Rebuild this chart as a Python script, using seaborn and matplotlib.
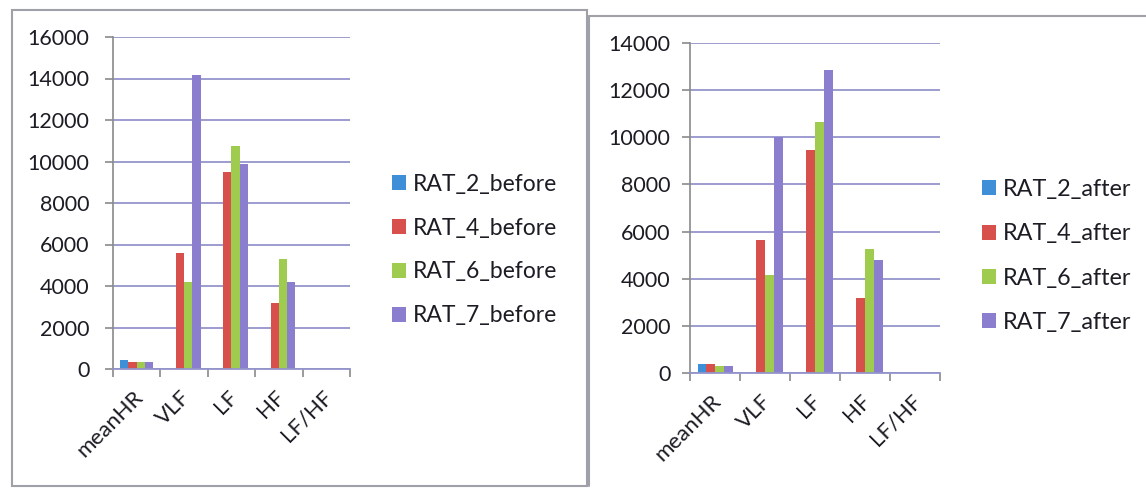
import matplotlib
matplotlib.use("Agg")
import matplotlib.pyplot as plt
import matplotlib.transforms as mtransforms
from matplotlib.patches import Rectangle
from matplotlib.lines import Line2D
import numpy as np
import pandas as pd
import seaborn as sns

# ---------------- data ----------------
categories = ["meanHR", "VLF", "LF", "HF", "LF/HF"]

before_labels = ["RAT_2_before", "RAT_4_before", "RAT_6_before", "RAT_7_before"]
rat2_before = [430, 0, 0, 0, 1.1]
rat4_before = [330, 5600, 9480, 3180, 2.9]
rat6_before = [330, 4180, 10740, 5300, 2.0]
rat7_before = [330, 14180, 9870, 4180, 2.4]

after_labels = ["RAT_2_after", "RAT_4_after", "RAT_6_after", "RAT_7_after"]
rat2_after = [370, 0, 0, 0, 1.0]
rat4_after = [370, 5660, 9450, 3170, 3.0]
rat6_after = [280, 4160, 10640, 5260, 2.0]
rat7_after = [280, 10010, 12870, 4780, 2.7]

left_yticks = [0, 2000, 4000, 6000, 8000, 10000, 12000, 14000, 16000]
right_yticks = [0, 2000, 4000, 6000, 8000, 10000, 12000, 14000]

colors = ["#3F8ED8", "#D8504C", "#9FCB4F", "#8C7ECF"]

# ---------------- style ----------------
sns.set_theme(style="white")
plt.rcParams["font.family"] = ["Lato", "DejaVu Sans"]
TEXT = "#1c1c24"
GRID = "#9494cc"

W, H = 1146, 488
fig = plt.figure(figsize=(W / 100, H / 100), dpi=100)
fig.patch.set_facecolor("white")


def px_rect(x0, y0, x1, y1):
    """pixel box (top-left origin) -> figure fraction rect"""
    return [x0 / W, 1 - y1 / H, (x1 - x0) / W, (y1 - y0) / H]


def make_df(series, labels):
    rows = []
    for lab, vals in zip(labels, series):
        for c, v in zip(categories, vals):
            rows.append({"cat": c, "series": lab, "value": v})
    return pd.DataFrame(rows)


def draw_panel(rect, df, labels, yticks, ymax, ypad, legend_xy, legend_size):
    ax = fig.add_axes(rect)
    sns.barplot(data=df, x="cat", y="value", hue="series", order=categories,
                hue_order=labels, palette=colors, saturation=1, width=0.7,
                gap=0, dodge=True, ax=ax, legend=False, linewidth=0,
                err_kws={"linewidth": 0})
    ax.set_xlim(-0.5, len(categories) - 0.5)
    ax.set_ylim(0, ymax)
    ax.set_yticks(yticks)
    ax.set_yticklabels([str(t) for t in yticks])
    ax.set_xlabel("")
    ax.set_ylabel("")
    ax.yaxis.grid(True, color=GRID, linewidth=1.3)
    ax.set_axisbelow(True)
    for s in ["top", "right"]:
        ax.spines[s].set_visible(False)
    ax.spines["left"].set_color("#8a8a8a")
    ax.spines["left"].set_linewidth(1.2)
    ax.spines["bottom"].set_color(GRID)
    ax.spines["bottom"].set_linewidth(1.3)
    ax.tick_params(axis="y", length=6, width=1.2, color="#8a8a8a",
                   labelsize=15.5, labelcolor=TEXT, pad=ypad, left=True)
    # category boundary ticks
    ax.set_xticks(np.arange(-0.5, len(categories)), minor=True)
    ax.tick_params(axis="x", which="minor", length=6, width=1.2,
                   color="#8a8a8a", bottom=True, direction="out")
    ax.tick_params(axis="x", which="major", length=0, labelsize=16,
                   labelcolor=TEXT, pad=13)
    ax.set_xticks(range(len(categories)))
    ax.set_xticklabels(categories, rotation=45, ha="right")
    off = mtransforms.ScaledTranslation(10 / 100, 0, fig.dpi_scale_trans)
    for lab in ax.get_xticklabels():
        lab.set_transform(lab.get_transform() + off)

    handles = [Rectangle((0, 0), 1, 1, facecolor=c, edgecolor="none")
               for c in colors]
    fig.legend(handles, labels, loc="center left",
               bbox_to_anchor=legend_xy, frameon=False,
               fontsize=legend_size, labelcolor=TEXT,
               handlelength=0.6, handleheight=0.6, handletextpad=0.3,
               labelspacing=1.0, borderpad=0, borderaxespad=0)
    return ax


df_before = make_df([rat2_before, rat4_before, rat6_before, rat7_before],
                    before_labels)
df_after = make_df([rat2_after, rat4_after, rat6_after, rat7_after],
                   after_labels)

draw_panel(px_rect(113, 37, 350, 369), df_before, before_labels,
           left_yticks, 16000, 11, (392 / W, 1 - 250 / H), 16.5)
draw_panel(px_rect(690, 43, 940, 373), df_after, after_labels,
           right_yticks, 14000, 8, (982 / W, 1 - 256 / H), 16.8)

# panel borders
BORDER = "#a0a0a8"
fig.add_artist(Rectangle((12 / W, 1 - 486 / H), (587 - 12) / W, (486 - 10) / H,
                         transform=fig.transFigure, fill=False,
                         edgecolor=BORDER, linewidth=1.5))
fig.add_artist(Line2D([589 / W, 1.0], [1 - 16 / H, 1 - 16 / H],
                      transform=fig.transFigure, color=BORDER, linewidth=1.5))
fig.add_artist(Line2D([589 / W, 589 / W], [1 - 16 / H, 1 - 486 / H],
                      transform=fig.transFigure, color=BORDER, linewidth=1.5))

fig.savefig("out.png", dpi=100, facecolor="white")
